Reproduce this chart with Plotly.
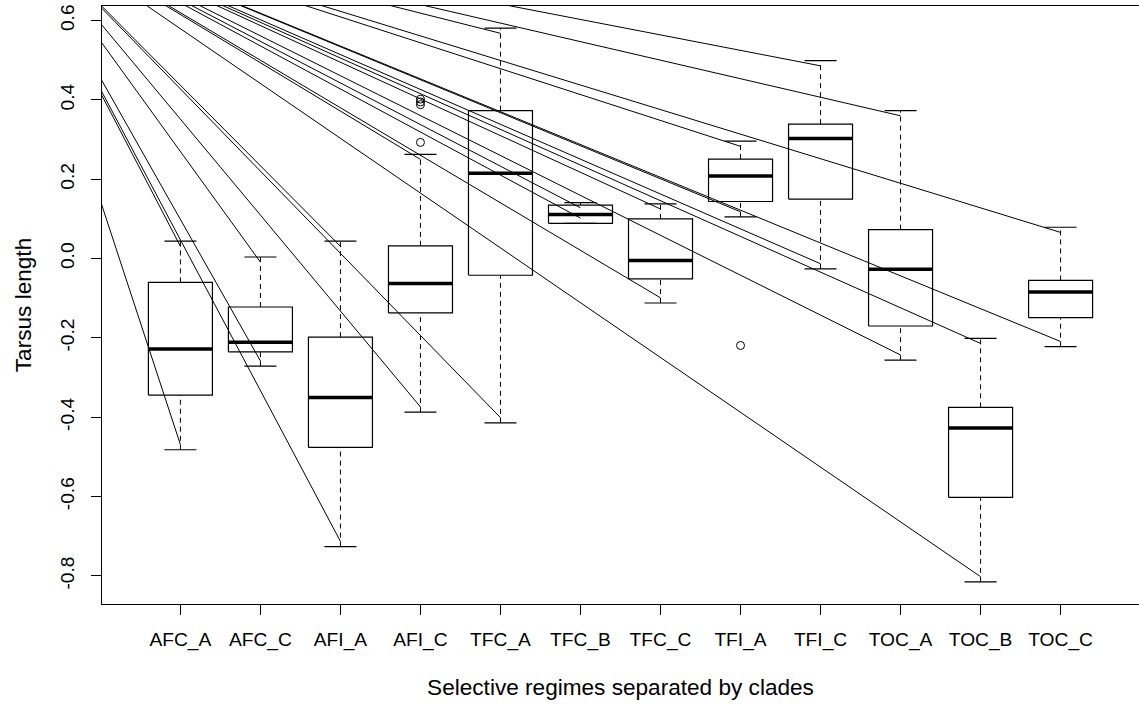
import plotly.graph_objects as go

# ---- data ----
categories = ["AFC_A", "AFC_C", "AFI_A", "AFI_C", "TFC_A", "TFC_B",
              "TFC_C", "TFI_A", "TFI_C", "TOC_A", "TOC_B", "TOC_C"]
lower_whisker = [-0.482, -0.271, -0.726, -0.387, -0.414, 0.089,
                 -0.112, 0.105, -0.026, -0.256, -0.815, -0.222]
q1 = [-0.344, -0.235, -0.476, -0.137, -0.042, 0.089,
      -0.051, 0.144, 0.150, -0.170, -0.602, -0.149]
median = [-0.228, -0.211, -0.350, -0.063, 0.215, 0.111,
          -0.005, 0.208, 0.303, -0.027, -0.427, -0.084]
q3 = [-0.060, -0.122, -0.198, 0.032, 0.373, 0.135,
      0.100, 0.251, 0.339, 0.073, -0.375, -0.055]
upper_whisker = [0.044, 0.004, 0.044, 0.263, 0.581, 0.141,
                 0.138, 0.296, 0.499, 0.373, -0.201, 0.079]
outlier_group = ["AFI_C", "AFI_C", "AFI_C", "AFI_C", "TFI_A"]
outlier_value = [0.293, 0.388, 0.395, 0.402, -0.219]

# common point (outside the plot) from which the straight lines fan out
fan_origin_x = -1.2
fan_origin_y = 0.8835
fan_inset = 0.013  # lines stop just inside each whisker end

y_ticks = [-0.8, -0.6, -0.4, -0.2, 0.0, 0.2, 0.4, 0.6]
y_tick_text = ["-0.8", "-0.6", "-0.4", "-0.2", "0.0", "0.2", "0.4", "0.6"]

# ---- styling ----
BOX_HALF = 0.4
CAP_HALF = 0.2
FONT = "Liberation Sans, Arial, sans-serif"
TICK_SIZE = 19.2
TITLE_SIZE = 22.6

positions = list(range(1, len(categories) + 1))
pos_of = {c: p for c, p in zip(categories, positions)}

ymin = min(lower_whisker)
ymax = max(upper_whisker)
span = ymax - ymin
y_range = [ymin - 0.04 * span, ymax + 0.04 * span]
x_range = [0.5 - 0.04 * 12, 12.5 + 0.04 * 12]

fig = go.Figure()

# fan lines
fx, fy = [], []
for p, lo, hi in zip(positions, lower_whisker, upper_whisker):
    for end in (lo + fan_inset, hi - fan_inset):
        fx += [fan_origin_x, p, None]
        fy += [fan_origin_y, end, None]
fig.add_trace(go.Scatter(x=fx, y=fy, mode="lines",
                         line=dict(color="black", width=1), hoverinfo="skip"))

# boxes
bx, by = [], []
for p, a, b in zip(positions, q1, q3):
    bx += [p - BOX_HALF, p + BOX_HALF, p + BOX_HALF, p - BOX_HALF, p - BOX_HALF, None]
    by += [a, a, b, b, a, None]
fig.add_trace(go.Scatter(x=bx, y=by, mode="lines",
                         line=dict(color="black", width=1.2), hoverinfo="skip"))

# medians
mx, my = [], []
for p, m in zip(positions, median):
    mx += [p - BOX_HALF, p + BOX_HALF, None]
    my += [m, m, None]
fig.add_trace(go.Scatter(x=mx, y=my, mode="lines",
                         line=dict(color="black", width=3.5), hoverinfo="skip"))

# whiskers (dashed)
wx, wy = [], []
for p, lo, a, b, hi in zip(positions, lower_whisker, q1, q3, upper_whisker):
    wx += [p, p, None, p, p, None]
    wy += [lo, a, None, b, hi, None]
fig.add_trace(go.Scatter(x=wx, y=wy, mode="lines",
                         line=dict(color="black", width=1, dash="5px,4px"),
                         hoverinfo="skip"))

# caps
cx, cy = [], []
for p, lo, hi in zip(positions, lower_whisker, upper_whisker):
    cx += [p - CAP_HALF, p + CAP_HALF, None, p - CAP_HALF, p + CAP_HALF, None]
    cy += [lo, lo, None, hi, hi, None]
fig.add_trace(go.Scatter(x=cx, y=cy, mode="lines",
                         line=dict(color="black", width=1.2), hoverinfo="skip"))

# outliers
fig.add_trace(go.Scatter(x=[pos_of[g] for g in outlier_group], y=outlier_value,
                         mode="markers",
                         marker=dict(symbol="circle-open", size=8, color="black",
                                     line=dict(width=1)),
                         hoverinfo="skip"))

axis_common = dict(showline=True, linecolor="black", linewidth=1.2, mirror=True,
                   showgrid=False, zeroline=False, ticks="outside", ticklen=10,
                   tickcolor="black", tickwidth=1, automargin=False,
                   tickfont=dict(family=FONT, size=TICK_SIZE, color="black"))

fig.update_layout(
    width=1139, height=704,
    margin=dict(l=102, r=0, t=6, b=100),
    paper_bgcolor="white", plot_bgcolor="white",
    showlegend=False,
    xaxis=dict(range=x_range, tickmode="array", tickvals=positions,
               ticktext=categories, ticklabelstandoff=8,
               title=dict(text="Selective regimes separated by clades",
                          font=dict(family=FONT, size=TITLE_SIZE, color="black"),
                          standoff=29),
               **axis_common),
    yaxis=dict(range=y_range, tickmode="array", tickvals=y_ticks,
               ticktext=y_tick_text, tickangle=-90, ticklabelstandoff=9,
               title=dict(text="Tarsus length",
                          font=dict(family=FONT, size=TITLE_SIZE, color="black"),
                          standoff=19),
               **axis_common),
)

fig.write_html("out.html",
               config={"displayModeBar": False},
               post_script="document.body.style.margin='0px';"
                           "document.body.style.overflow='hidden';")
